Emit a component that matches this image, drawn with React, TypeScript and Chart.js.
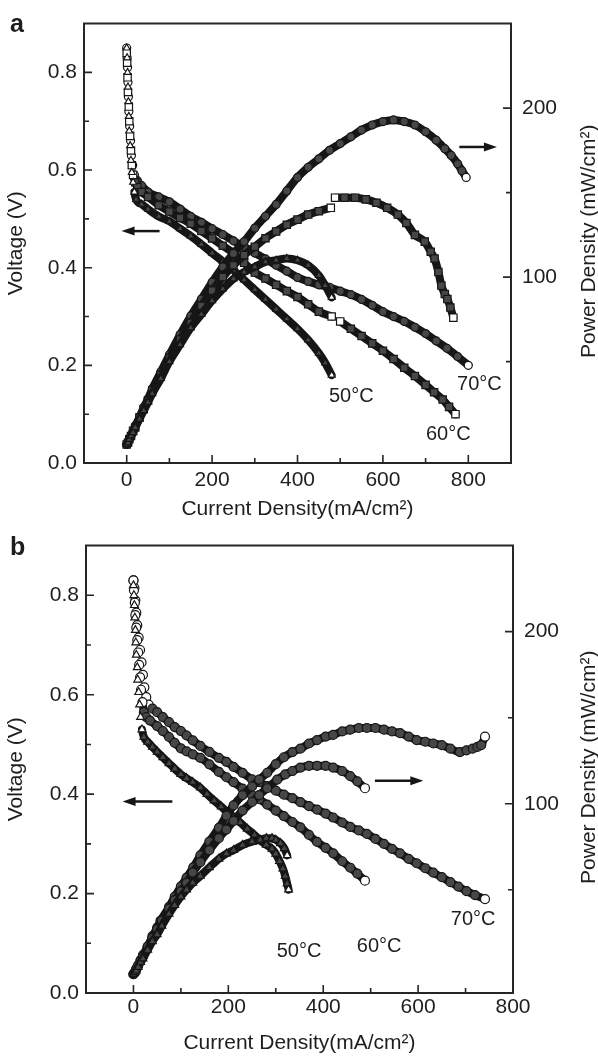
import React, { useEffect, useRef } from 'react';
import { Chart, registerables } from 'chart.js';

Chart.register(...registerables);

const FONT = '"Liberation Sans", Arial, Helvetica, sans-serif';
const INK = '#161616';
const FILL = '#474747';
const FRAME = '#262626';
const TEXT = '#1e1e1e';

// ---------------- Panel a: voltage (V) vs current density (mA/cm2)
const a50vI = [0, 1, 2, 3, 4, 5, 6, 8, 10, 12, 15, 18, 22, 35, 50, 75, 100, 125, 150, 175, 200, 225, 250, 275, 300, 325, 350, 375, 400, 425, 450, 465, 480];
const a50vV = [0.85, 0.83, 0.80, 0.77, 0.74, 0.71, 0.68, 0.65, 0.62, 0.595, 0.575, 0.555, 0.54, 0.53, 0.52, 0.505, 0.495, 0.48, 0.465, 0.448, 0.43, 0.413, 0.395, 0.375, 0.355, 0.335, 0.315, 0.295, 0.275, 0.252, 0.225, 0.205, 0.18];

const a60vI = [0, 1, 2, 3, 5, 6, 8, 10, 12, 15, 20, 25, 35, 50, 75, 100, 125, 150, 175, 200, 225, 250, 275, 300, 325, 350, 375, 400, 425, 450, 480, 490, 500, 525, 550, 575, 600, 625, 650, 675, 700, 720, 740, 755, 770];
const a60vV = [0.84, 0.82, 0.79, 0.76, 0.73, 0.70, 0.67, 0.64, 0.61, 0.59, 0.575, 0.565, 0.555, 0.545, 0.528, 0.515, 0.502, 0.49, 0.475, 0.46, 0.445, 0.43, 0.41, 0.39, 0.378, 0.365, 0.352, 0.34, 0.325, 0.31, 0.30, null, 0.29, 0.275, 0.26, 0.245, 0.23, 0.213, 0.195, 0.178, 0.16, 0.145, 0.13, 0.115, 0.10];

const a70vI = [0, 1, 2, 3, 4, 5, 7, 9, 11, 14, 18, 25, 35, 50, 75, 100, 125, 150, 175, 200, 225, 250, 275, 300, 325, 350, 375, 400, 425, 450, 475, 500, 525, 550, 575, 600, 625, 650, 675, 700, 725, 750, 775, 800];
const a70vV = [0.85, 0.83, 0.81, 0.78, 0.75, 0.72, 0.69, 0.66, 0.63, 0.61, 0.59, 0.578, 0.568, 0.555, 0.545, 0.535, 0.52, 0.505, 0.493, 0.48, 0.468, 0.455, 0.443, 0.43, 0.418, 0.405, 0.393, 0.38, 0.372, 0.365, 0.36, 0.352, 0.345, 0.335, 0.323, 0.31, 0.30, 0.29, 0.278, 0.265, 0.25, 0.235, 0.218, 0.20];

// ---------------- Panel a: power density (mW/cm2)
const a50pI = [0, 3, 6, 10, 15, 20, 30, 40, 50, 60, 80, 100, 125, 150, 175, 200, 225, 250, 275, 300, 325, 350, 375, 400, 425, 450, 465, 480];
const a50pP = [1, 2, 4, 6, 8, 11, 16, 21, 26, 31, 40, 50, 60, 70, 78, 86, 93, 99, 103, 106, 109, 110, 111, 110, 107, 101, 95, 88];

const a60pI = [0, 3, 6, 10, 15, 20, 30, 40, 50, 60, 80, 100, 125, 150, 175, 200, 225, 250, 275, 300, 325, 350, 375, 400, 425, 450, 478, 483, 488, 510, 535, 560, 585, 610, 635, 655, 675, 698, 712, 721, 730, 737, 745, 751, 758, 765];
const a60pP = [1, 2, 4, 6, 9, 11, 17, 22, 27, 33, 42, 52, 63, 73, 83, 92, 100, 107, 113, 118, 123, 127, 131, 134, 137, 139, 141, null, 147, 147, 147, 146, 144, 141, 137, 132, 125, 121, 115, 111, 103, 95, 90, 87, 82, 76];

const a70pI = [0, 3, 6, 10, 15, 20, 30, 40, 50, 60, 80, 100, 125, 150, 175, 200, 225, 250, 275, 300, 325, 350, 375, 400, 425, 450, 475, 500, 525, 550, 575, 600, 625, 650, 675, 700, 725, 745, 760, 775, 785, 795];
const a70pP = [1, 2, 4, 6, 9, 12, 17, 23, 28, 34, 44, 54, 66, 77, 87, 97, 106, 114, 121, 129, 136, 143, 151, 159, 165, 170, 175, 179, 183, 187, 190, 192, 193, 192, 190, 186, 181, 176, 172, 167, 163, 159];

// ---------------- Panel b: voltage (V)
const b50vI = [0, 1, 2, 3, 4, 5, 6, 8, 9, 11, 13, 15, 18, 22, 30, 40, 50, 62, 75, 87, 100, 112, 125, 141, 155, 170, 185, 200, 211, 225, 240, 255, 267, 280, 292, 300, 308, 315, 320, 324, 327];
const b50vV = [0.82, 0.80, 0.78, 0.755, 0.73, 0.705, 0.68, 0.655, 0.63, 0.605, 0.58, 0.555, 0.53, 0.515, 0.505, 0.495, 0.485, 0.474, 0.462, 0.451, 0.44, 0.432, 0.424, 0.413, 0.40, 0.387, 0.375, 0.362, 0.354, 0.343, 0.33, 0.318, 0.307, 0.298, 0.29, 0.28, 0.265, 0.25, 0.235, 0.22, 0.208];

const b60vI = [0, 1, 3, 4, 6, 8, 10, 12, 14, 16, 19, 22, 27, 35, 50, 62, 75, 87, 100, 112, 125, 141, 160, 180, 196, 211, 230, 250, 265, 282, 300, 317, 335, 352, 370, 387, 405, 421, 440, 457, 472, 488];
const b60vV = [0.83, 0.81, 0.785, 0.76, 0.735, 0.71, 0.685, 0.66, 0.635, 0.61, 0.585, 0.565, 0.555, 0.548, 0.537, 0.527, 0.515, 0.503, 0.492, 0.486, 0.48, 0.473, 0.46, 0.445, 0.434, 0.424, 0.411, 0.398, 0.39, 0.379, 0.367, 0.356, 0.344, 0.333, 0.318, 0.304, 0.292, 0.281, 0.265, 0.252, 0.24, 0.226];

const b70vI = [0, 2, 4, 6, 8, 11, 14, 17, 20, 23, 27, 32, 40, 50, 62, 75, 87, 100, 112, 125, 141, 160, 180, 196, 211, 230, 250, 265, 282, 300, 317, 335, 352, 370, 387, 405, 421, 440, 457, 475, 492, 510, 528, 545, 562, 580, 597, 615, 632, 650, 668, 685, 702, 720, 741];
const b70vV = [0.83, 0.815, 0.79, 0.765, 0.74, 0.715, 0.69, 0.665, 0.64, 0.615, 0.595, 0.58, 0.572, 0.565, 0.555, 0.545, 0.535, 0.527, 0.518, 0.508, 0.497, 0.485, 0.473, 0.465, 0.455, 0.443, 0.43, 0.424, 0.416, 0.407, 0.399, 0.392, 0.384, 0.376, 0.369, 0.361, 0.353, 0.343, 0.334, 0.327, 0.32, 0.31, 0.30, 0.29, 0.281, 0.27, 0.261, 0.251, 0.242, 0.233, 0.223, 0.214, 0.205, 0.197, 0.189];

// ---------------- Panel b: power density (mW/cm2)
const b50pI = [0, 3, 6, 10, 15, 20, 30, 40, 50, 60, 75, 87, 100, 112, 125, 141, 160, 180, 196, 211, 230, 250, 267, 280, 292, 300, 310, 318, 324];
const b50pP = [1, 2, 3, 5, 8, 10, 15, 20, 24, 29, 36, 41, 46, 50, 54, 58, 63, 68, 71, 73, 76, 78, 79, 80, 80, 79, 77, 74, 70];

const b60pI = [0, 3, 6, 10, 15, 20, 30, 40, 50, 60, 75, 87, 100, 112, 125, 141, 160, 180, 196, 211, 230, 250, 265, 282, 303, 320, 335, 352, 370, 387, 405, 421, 440, 457, 472, 488];
const b60pP = [1, 2, 4, 6, 9, 11, 17, 22, 27, 32, 39, 44, 49, 54, 60, 66, 73, 80, 85, 90, 96, 101, 105, 109, 114, 117, 119, 121, 122, 122, 122, 121, 119, 116, 113, 109];

const b70pI = [0, 3, 6, 10, 15, 20, 30, 40, 50, 57, 75, 87, 100, 112, 126, 141, 160, 180, 196, 211, 230, 250, 265, 282, 300, 317, 335, 352, 370, 387, 405, 421, 440, 457, 475, 492, 510, 528, 545, 562, 580, 597, 615, 632, 650, 668, 688, 702, 715, 725, 733, 741];
const b70pP = [1, 2, 4, 6, 9, 12, 17, 23, 28, 32, 40, 46, 52, 57, 63, 70, 78, 86, 93, 99, 105, 110, 114, 118, 123, 127, 130, 132, 135, 137, 139, 140, 142, 143, 144, 144, 144, 143, 142, 141, 139, 137, 136, 135, 134, 132, 130, 131, 132, 133, 134, 139];

// Tick labels
const xTickLabels = ['0', '200', '400', '600', '800'];
const vTickLabels = ['0.0', '0.2', '0.4', '0.6', '0.8'];
const pTickLabels = ['0', '100', '200'];

// Annotations (data coordinates)
const annA = {
  leftArrow: { from: 77, to: -12, v: 0.475 },
  rightArrow: { from: 779, to: 867, p: 177 },
  labels: [
    { text: '50°C', x: 526, v: 0.136 },
    { text: '70°C', x: 826, v: 0.16 },
    { text: '60°C', x: 753, v: 0.058 },
  ],
};
const annB = {
  leftArrow: { from: 82, to: -23, v: 0.385 },
  rightArrow: { from: 509, to: 611, p: 113.4 },
  labels: [
    { text: '50°C', x: 349, v: 0.083 },
    { text: '60°C', x: 518, v: 0.094 },
    { text: '70°C', x: 716, v: 0.147 },
  ],
};

type Shape = 'triangle' | 'rect' | 'circle';
type Series = { xs: number[]; ys: (number | null)[]; axis: 'y' | 'y2'; shape: Shape; open: number };

const seriesA: Series[] = [
  { xs: a50pI, ys: a50pP, axis: 'y2', shape: 'triangle', open: 0 },
  { xs: a60pI, ys: a60pP, axis: 'y2', shape: 'rect', open: 0 },
  { xs: a70pI, ys: a70pP, axis: 'y2', shape: 'circle', open: 0 },
  { xs: a50vI, ys: a50vV, axis: 'y', shape: 'triangle', open: 12 },
  { xs: a60vI, ys: a60vV, axis: 'y', shape: 'rect', open: 10 },
  { xs: a70vI, ys: a70vV, axis: 'y', shape: 'circle', open: 11 },
];
const seriesB: Series[] = [
  { xs: b50pI, ys: b50pP, axis: 'y2', shape: 'triangle', open: 0 },
  { xs: b60pI, ys: b60pP, axis: 'y2', shape: 'circle', open: 0 },
  { xs: b70pI, ys: b70pP, axis: 'y2', shape: 'circle', open: 0 },
  { xs: b50vI, ys: b50vV, axis: 'y', shape: 'triangle', open: 13 },
  { xs: b60vI, ys: b60vV, axis: 'y', shape: 'circle', open: 11 },
  { xs: b70vI, ys: b70vV, axis: 'y', shape: 'circle', open: 12 },
];

function makeDataset(s: Series, radius: number) {
  const n = s.xs.length;
  const isOpen = (i: number) =>
    i < s.open || i === n - 1 || s.ys[i + 1] === null || (i > 0 && s.ys[i - 1] === null);
  return {
    data: s.xs.map((x, i) => ({ x, y: s.ys[i] })),
    yAxisID: s.axis,
    showLine: true,
    spanGaps: false,
    borderColor: INK,
    borderWidth: 8,
    borderCapStyle: 'round',
    borderJoinStyle: 'round',
    cubicInterpolationMode: 'monotone',
    segment: {
      borderColor: (c: any) => (c.p1DataIndex < s.open ? 'rgba(0,0,0,0)' : INK),
    },
    pointStyle: s.shape,
    pointRadius: s.shape === 'rect' ? radius * 1.3 : radius,
    pointBorderWidth: 1.2,
    pointBorderColor: INK,
    pointBackgroundColor: (c: any) => (isOpen(c.dataIndex) ? '#ffffff' : FILL),
  };
}

type PanelCfg = {
  letter: string;
  height: number;
  top: number;
  xMax: number;
  xH: number;
  yW: number;
  y2W: number;
  xPad: number;
  titlePad: number;
  ann: typeof annA;
  series: Series[];
  radius: number;
};

function drawArrow(ctx: CanvasRenderingContext2D, x0: number, x1: number, y: number) {
  const dir = Math.sign(x1 - x0);
  const head = 13;
  ctx.save();
  ctx.strokeStyle = INK;
  ctx.fillStyle = INK;
  ctx.lineWidth = 2.5;
  ctx.beginPath();
  ctx.moveTo(x0, y);
  ctx.lineTo(x1 - dir * head * 0.8, y);
  ctx.stroke();
  ctx.beginPath();
  ctx.moveTo(x1, y);
  ctx.lineTo(x1 - dir * head, y - 4.5);
  ctx.lineTo(x1 - dir * head, y + 4.5);
  ctx.closePath();
  ctx.fill();
  ctx.restore();
}

function makeDecor(cfg: PanelCfg) {
  return {
    id: 'decor' + cfg.letter,
    afterDraw(chart: any) {
      const { ctx, chartArea: ca, scales } = chart;
      const xs = scales.x;
      const ys = scales.y;
      const y2s = scales.y2;
      ctx.save();
      // top frame line
      ctx.strokeStyle = FRAME;
      ctx.lineWidth = 2;
      ctx.beginPath();
      ctx.moveTo(ca.left - 1, ca.top);
      ctx.lineTo(ca.right + 1, ca.top);
      ctx.stroke();
      // inward ticks
      ctx.lineWidth = 1.6;
      const eachTick = (scale: any, fn: (p: number, len: number) => void) => {
        scale.ticks.forEach((t: any) => {
          if (Math.abs(t.value - scale.min) < 1e-9 || Math.abs(t.value - scale.max) < 1e-9) return;
          fn(scale.getPixelForValue(t.value), t.label ? 8 : 5);
        });
      };
      ctx.beginPath();
      eachTick(xs, (p, len) => {
        ctx.moveTo(p, ca.bottom);
        ctx.lineTo(p, ca.bottom - len);
      });
      eachTick(ys, (p, len) => {
        ctx.moveTo(ca.left, p);
        ctx.lineTo(ca.left + len, p);
      });
      eachTick(y2s, (p, len) => {
        ctx.moveTo(ca.right, p);
        ctx.lineTo(ca.right - len, p);
      });
      ctx.stroke();

      // arrows
      const a = cfg.ann;
      drawArrow(ctx, xs.getPixelForValue(a.leftArrow.from), xs.getPixelForValue(a.leftArrow.to), ys.getPixelForValue(a.leftArrow.v));
      drawArrow(ctx, xs.getPixelForValue(a.rightArrow.from), xs.getPixelForValue(a.rightArrow.to), y2s.getPixelForValue(a.rightArrow.p));

      // temperature labels
      ctx.fillStyle = TEXT;
      ctx.font = `20px ${FONT}`;
      ctx.textAlign = 'center';
      ctx.textBaseline = 'middle';
      a.labels.forEach((l) => {
        ctx.fillText(l.text, xs.getPixelForValue(l.x), ys.getPixelForValue(l.v));
      });

      // right axis title (reads bottom to top)
      ctx.save();
      ctx.translate(589, (ca.top + ca.bottom) / 2 - 2);
      ctx.rotate(-Math.PI / 2);
      ctx.font = `21px ${FONT}`;
      ctx.fillText('Power Density (mW/cm²)', 0, 0);
      ctx.restore();

      // panel letter
      ctx.font = `bold 25px ${FONT}`;
      ctx.textAlign = 'left';
      ctx.textBaseline = 'alphabetic';
      ctx.fillText(cfg.letter, 10, cfg.top + 20);
      ctx.restore();
    },
  };
}

function Panel({ cfg }: { cfg: PanelCfg }) {
  const ref = useRef<HTMLCanvasElement | null>(null);
  useEffect(() => {
    if (!ref.current) return;
    const tickFont = { family: FONT, size: 21 };
    const chart = new Chart(ref.current, {
      type: 'scatter',
      data: { datasets: cfg.series.map((s) => makeDataset(s, cfg.radius)) as any },
      options: {
        animation: false,
        responsive: false,
        events: [],
        layout: { padding: { top: cfg.top, left: 0, right: 0, bottom: 0 } },
        plugins: { legend: { display: false }, tooltip: { enabled: false } },
        scales: {
          x: {
            type: 'linear',
            position: 'bottom',
            min: -100,
            max: cfg.xMax,
            afterFit: (s: any) => {
              s.height = cfg.xH;
            },
            grid: { display: false, drawTicks: false },
            border: { display: true, color: FRAME, width: 2 },
            ticks: {
              stepSize: 100,
              autoSkip: false,
              maxRotation: 0,
              padding: cfg.xPad,
              font: tickFont,
              color: TEXT,
              callback: (v: any) => (xTickLabels.includes(String(v)) ? String(v) : ''),
            },
            title: {
              display: true,
              text: 'Current Density(mA/cm²)',
              font: tickFont,
              color: TEXT,
              padding: { top: 0, bottom: cfg.titlePad },
            },
          },
          y: {
            type: 'linear',
            position: 'left',
            min: 0,
            max: 0.9,
            afterFit: (s: any) => {
              s.width = cfg.yW;
            },
            grid: { display: false, drawTicks: false },
            border: { display: true, color: FRAME, width: 2 },
            ticks: {
              stepSize: 0.1,
              autoSkip: false,
              padding: 7,
              font: tickFont,
              color: TEXT,
              callback: (v: any) => {
                const s = (Math.round(Number(v) * 10) / 10).toFixed(1);
                return vTickLabels.includes(s) ? s : '';
              },
            },
            title: {
              display: true,
              text: 'Voltage (V)',
              font: tickFont,
              color: TEXT,
              padding: { top: 4, bottom: 0 },
            },
          },
          y2: {
            type: 'linear',
            position: 'right',
            min: -10,
            max: 250,
            afterFit: (s: any) => {
              s.width = cfg.y2W;
            },
            grid: { display: false, drawTicks: false },
            border: { display: true, color: FRAME, width: 2 },
            ticks: {
              stepSize: 50,
              autoSkip: false,
              padding: 11,
              font: tickFont,
              color: TEXT,
              callback: (v: any) => (pTickLabels.includes(String(v)) ? String(v) : ''),
            },
          },
        },
      } as any,
      plugins: [makeDecor(cfg)],
    });
    return () => chart.destroy();
  }, [cfg]);
  return <canvas ref={ref} width={598} height={cfg.height} style={{ display: 'block', width: 598, height: cfg.height }} />;
}

const cfgA: PanelCfg = {
  letter: 'a', height: 525, top: 12, xMax: 900, xH: 62, yW: 84, y2W: 87, xPad: 5, titlePad: 3,
  ann: annA, series: seriesA, radius: 4,
};
const cfgB: PanelCfg = {
  letter: 'b', height: 534, top: 13, xMax: 800, xH: 63, yW: 86, y2W: 85, xPad: 2, titlePad: 0,
  ann: annB, series: seriesB, radius: 4.5,
};

export default function App() {
  useEffect(() => {
    Chart.defaults.font.family = FONT;
  }, []);
  return (
    <div style={{ position: 'absolute', left: 0, top: 0, width: 598, height: 1056, background: '#fff', overflow: 'hidden' }}>
      <div style={{ position: 'absolute', left: 0, top: 0 }}>
        <Panel cfg={cfgA} />
      </div>
      <div style={{ position: 'absolute', left: 0, top: 522 }}>
        <Panel cfg={cfgB} />
      </div>
    </div>
  );
}
